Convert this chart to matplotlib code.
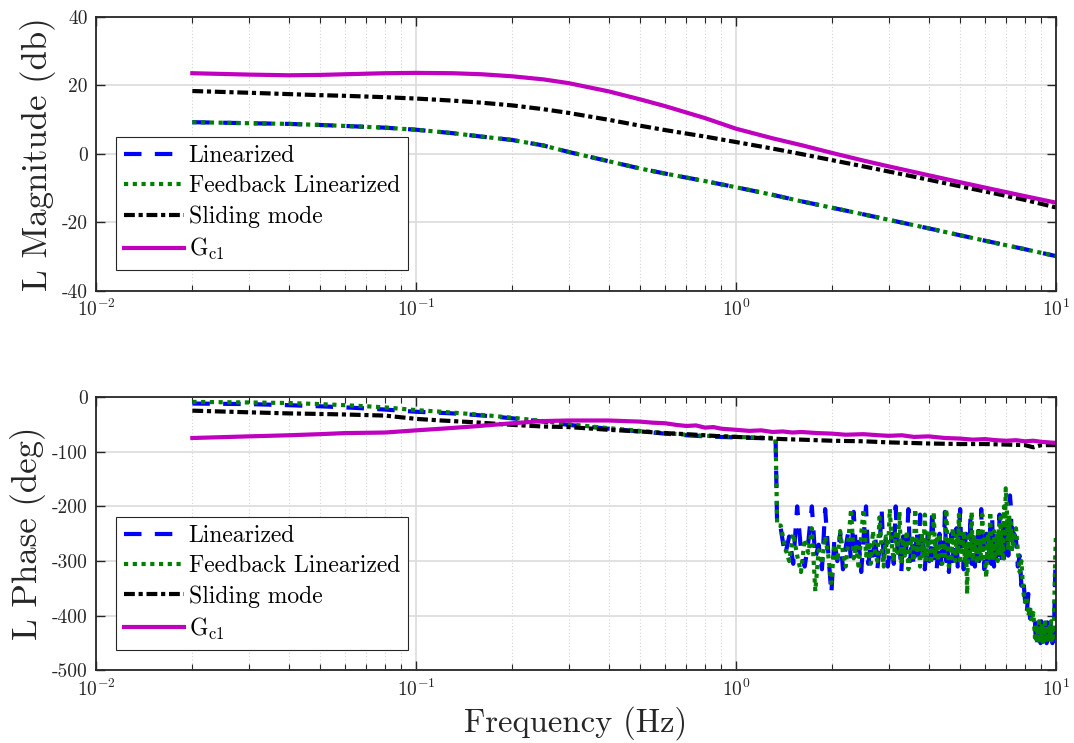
import numpy as np
import matplotlib
matplotlib.use('Agg')
import matplotlib.pyplot as plt
from matplotlib.ticker import FuncFormatter, LogLocator, NullFormatter, MultipleLocator

plt.rcParams['font.family'] = 'cmr10'
plt.rcParams['mathtext.fontset'] = 'cm'
plt.rcParams['axes.formatter.use_mathtext'] = True
plt.rcParams['axes.unicode_minus'] = False

# ---------------- magnitude (dB) ----------------
f_mag = [0.02, 0.03, 0.04, 0.05, 0.06, 0.08, 0.1, 0.13, 0.16, 0.2, 0.25, 0.3, 0.4, 0.5,
         0.6, 0.8, 1.0, 1.3, 1.6, 2.0, 2.5, 3.0, 4.0, 5.0, 6.5, 8.0, 10.0]
mag_lin = [9.2, 8.9, 8.7, 8.4, 8.1, 7.6, 7.0, 6.0, 5.0, 4.0, 2.4, 0.5, -2.2, -4.3,
           -5.8, -8.0, -9.8, -12.0, -13.9, -15.8, -17.7, -19.3, -21.8, -23.8, -26.1, -27.9, -29.9]
mag_fblin = [9.2, 8.9, 8.7, 8.4, 8.1, 7.6, 7.0, 6.0, 5.0, 4.0, 2.4, 0.5, -2.2, -4.3,
             -5.8, -8.0, -9.8, -12.0, -13.9, -15.8, -17.7, -19.3, -21.8, -23.8, -26.1, -27.9, -29.9]
mag_smc = [18.3, 17.8, 17.4, 17.1, 16.9, 16.5, 16.1, 15.5, 14.9, 14.1, 13.0, 11.9, 9.9, 8.2,
           6.9, 5.0, 3.4, 1.5, -0.1, -1.9, -3.7, -5.2, -7.6, -9.5, -11.7, -13.5, -15.7]
mag_gc1 = [23.5, 23.1, 22.9, 23.0, 23.2, 23.5, 23.6, 23.5, 23.2, 22.6, 21.7, 20.6, 18.2, 15.9,
           13.9, 10.4, 7.3, 4.5, 2.5, 0.2, -2.0, -3.7, -6.3, -8.3, -10.6, -12.4, -14.3]

# ---------------- phase (deg) ----------------
# smooth low-frequency part of the two linearized loops
f_ph_low = [0.02, 0.03, 0.04, 0.05, 0.06, 0.07, 0.08, 0.1, 0.12, 0.14, 0.17, 0.2, 0.25,
            0.3, 0.4, 0.5, 0.6, 0.7, 0.8, 1.0, 1.15, 1.33, 1.345]
ph_lin_low = [-12, -13, -15, -17, -19, -21, -23, -27, -29, -31, -35, -39, -45,
              -51, -58, -63, -67, -70, -72, -74, -75, -76, -240]
ph_fblin_low = [-9, -10, -11, -13, -15, -17, -19, -24, -27, -30, -34, -38, -44,
                -50, -57, -62, -66, -69, -71, -73, -74, -75, -235]

# noisy band, 1.38 .. 7.4 Hz on a linear frequency grid
f_noise = np.linspace(1.38, 7.4, 140)
ph_lin_noise = [
    -240, -290, -255, -305, -200, -280, -310, -265, -200, -295,
    -270, -315, -205, -285, -360, -260, -300, -250, -315, -275,
    -245, -300, -210, -290, -265, -320, -255, -200, -305, -270,
    -290, -250, -315, -275, -205, -300, -260, -310, -280, -250,
    -305, -200, -285, -265, -320, -255, -295, -270, -205, -300,
    -260, -310, -280, -245, -300, -215, -290, -265, -315, -275,
    -250, -300, -270, -205, -295, -260, -315, -280, -250, -305,
    -270, -290, -210, -300, -255, -320, -275, -250, -300, -265,
    -295, -240, -310, -270, -205, -285, -260, -315, -275, -250,
    -300, -265, -290, -215, -305, -255, -280, -310, -260, -295,
    -245, -300, -270, -205, -290, -260, -315, -275, -250, -300,
    -265, -290, -240, -305, -220, -280, -310, -255, -295, -270,
    -250, -300, -215, -285, -265, -310, -240, -295, -260, -230,
    -280, -250, -290, -210, -180, -200, -260, -240, -275, -250]
ph_fblin_noise = [
    -235, -275, -300, -250, -290, -320, -260, -285, -240, -355,
    -280, -305, -255, -290, -340, -270, -300, -245, -285, -310,
    -260, -205, -295, -270, -315, -250, -205, -290, -265, -305,
    -245, -285, -300, -220, -275, -310, -255, -290, -205, -270,
    -300, -250, -285, -210, -305, -265, -290, -245, -315, -275,
    -255, -300, -205, -280, -265, -310, -250, -290, -215, -300,
    -270, -245, -305, -280, -210, -295, -260, -300, -250, -285,
    -305, -265, -290, -205, -275, -310, -255, -295, -240, -280,
    -300, -250, -285, -215, -305, -265, -290, -245, -300, -270,
    -360, -255, -295, -270, -210, -300, -250, -285, -265, -305,
    -240, -290, -270, -300, -215, -280, -255, -305, -330, -275,
    -250, -295, -210, -285, -265, -300, -245, -290, -270, -255,
    -300, -240, -280, -220, -290, -260, -300, -200, -250, -167,
    -190, -240, -280, -215, -260, -230, -285, -250, -270, -245]

# high-frequency tail (7.5 .. 10 Hz)
f_tail = [7.5, 7.6, 7.7, 7.8, 7.9, 8.0, 8.1, 8.2, 8.3, 8.4, 8.5,
          8.6, 8.65, 8.7, 8.75, 8.8, 8.85, 8.9, 8.95, 9.0, 9.05, 9.1, 9.15, 9.2,
          9.25, 9.3, 9.35, 9.4, 9.45, 9.5, 9.55, 9.6, 9.65, 9.7, 9.75, 9.8, 9.85,
          9.9, 9.95, 10.0]
ph_lin_tail = [-260, -310, -290, -345, -330, -370, -395, -360, -405, -390, -408,
               -412, -445, -420, -450, -415, -440, -425, -450, -410, -445, -420, -448, -415,
               -440, -425, -450, -412, -445, -420, -448, -415, -442, -425, -450, -418, -440,
               -380, -320, -290]
ph_fblin_tail = [-240, -280, -320, -300, -355, -375, -365, -400, -385, -410, -395,
                 -440, -415, -448, -420, -445, -410, -450, -425, -440, -415, -448, -420, -445,
                 -412, -450, -425, -440, -418, -448, -420, -445, -410, -450, -425, -440, -420,
                 -350, -290, -250]

f_smc_ph = [0.02, 0.03, 0.04, 0.05, 0.06, 0.08, 0.1, 0.12, 0.15, 0.2, 0.25, 0.3, 0.4, 0.5,
            0.6, 0.7, 0.8, 0.9, 1.0, 1.2, 1.4, 1.6, 2.0, 2.5, 3.0, 3.5, 4.0, 5.0, 6.0, 7.0,
            8.0, 8.5, 9.0, 10.0]
ph_smc = [-25, -28, -30, -31, -32, -34, -40, -43, -46, -51, -54, -55, -60, -63,
          -66, -68, -70, -72, -73, -75, -77, -78, -80, -81, -83, -84, -85, -86, -86, -87,
          -88, -92, -88, -88]

f_gc1_ph = [0.02, 0.03, 0.04, 0.05, 0.06, 0.08, 0.1, 0.12, 0.15, 0.2, 0.25, 0.3, 0.4, 0.5,
            0.55, 0.6, 0.65, 0.7, 0.75, 0.8, 0.85, 0.9, 1.0, 1.1, 1.2, 1.3, 1.4, 1.5, 1.6,
            1.8, 2.0, 2.2, 2.5, 2.8, 3.0, 3.3, 3.6, 4.0, 4.5, 5.0, 5.5, 6.0, 6.5, 7.0, 7.5,
            8.0, 8.5, 9.0, 9.5, 10.0]
ph_gc1 = [-75, -72, -70, -68, -66, -65, -61, -58, -54, -48, -44, -43, -43, -45,
          -47, -48, -51, -53, -52, -56, -55, -58, -60, -62, -61, -64, -63, -65, -64,
          -66, -67, -69, -68, -70, -71, -70, -73, -72, -75, -76, -78, -77, -79, -80, -79,
          -81, -80, -82, -83, -84]

labels = ['Linearized', 'Feedback Linearized', 'Sliding mode', r'G$_{\rm c1}$']

f_lin_all = np.concatenate([f_ph_low, f_noise, f_tail])
ph_lin = np.concatenate([ph_lin_low, ph_lin_noise, ph_lin_tail])
ph_fblin = np.concatenate([ph_fblin_low, ph_fblin_noise, ph_fblin_tail])

# line styles (MATLAB-like)
lw = 3.0
sty_lin = dict(color='#0000ff', lw=lw, dashes=(4.2, 3.2))
sty_fb = dict(color='#008000', lw=lw, dashes=(1.0, 1.1))
sty_smc = dict(color='#000000', lw=lw, dashes=(2.6, 0.9, 1.0, 0.9))
sty_gc1 = dict(color='#bf00bf', lw=lw, ls='-')

fig = plt.figure(figsize=(10.74, 7.43), dpi=100)
ax1 = fig.add_axes([0.0894, 0.6088, 0.8938, 0.3687])
ax2 = fig.add_axes([0.0894, 0.0976, 0.8938, 0.3681])

ax1.plot(f_mag, mag_lin, label=labels[0], **sty_lin)
ax1.plot(f_mag, mag_fblin, label=labels[1], **sty_fb)
ax1.plot(f_mag, mag_smc, label=labels[2], **sty_smc)
ax1.plot(f_mag, mag_gc1, label=labels[3], **sty_gc1)

ax2.plot(f_lin_all, ph_lin, label=labels[0], **sty_lin)
ax2.plot(f_lin_all, ph_fblin, label=labels[1], **sty_fb)
ax2.plot(f_smc_ph, ph_smc, label=labels[2], **sty_smc)
ax2.plot(f_gc1_ph, ph_gc1, label=labels[3], **sty_gc1)

for ax in (ax1, ax2):
    ax.set_xscale('log')
    ax.set_xlim(0.01, 10)
    ax.xaxis.set_major_locator(LogLocator(base=10, numticks=10))
    ax.xaxis.set_minor_locator(LogLocator(base=10, subs=np.arange(2, 10), numticks=50))
    ax.xaxis.set_minor_formatter(NullFormatter())
    ax.yaxis.set_major_formatter(FuncFormatter(lambda v, p: '%g' % v))
    ax.set_axisbelow(True)
    ax.grid(True, which='major', color='#dcdcdc', lw=1.2, ls='-')
    ax.grid(True, which='minor', axis='x', color='#d4d4d4', lw=0.8, ls=(0, (1, 2)))
    ax.tick_params(which='both', direction='in', top=True, right=True,
                   colors='#262626', labelsize=14, pad=6)
    ax.tick_params(which='major', length=6.5, width=1.0)
    ax.tick_params(which='minor', length=4.0, width=0.8)
    for sp in ax.spines.values():
        sp.set_color('#262626')
        sp.set_linewidth(1.3)
    leg = ax.legend(loc='lower left', bbox_to_anchor=(0.0208, 0.0766), borderaxespad=0,
                    fancybox=False, edgecolor='#262626', framealpha=1, fontsize=17,
                    handlelength=2.55, handletextpad=0.2, labelspacing=0.34, borderpad=0.33)
    leg.get_frame().set_linewidth(0.8)

ax1.set_ylim(-40, 40)
ax1.yaxis.set_major_locator(MultipleLocator(20))
ax2.set_ylim(-500, 0)
ax2.yaxis.set_major_locator(MultipleLocator(100))

ax1.set_ylabel('L Magnitude (db)', fontsize=25, color='#262626')
ax2.set_ylabel('L Phase (deg)', fontsize=25, color='#262626')
ax2.set_xlabel('Frequency (Hz)', fontsize=23.5, color='#262626')

fig.savefig('out.png', dpi=100)
